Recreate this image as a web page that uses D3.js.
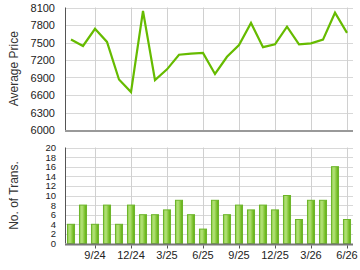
<!DOCTYPE html>
<html>
<head>
<meta charset="utf-8">
<script src="https://cdn.jsdelivr.net/npm/d3@7"></script>
<style>
  body { margin: 0; background: #fff; }
  svg { display: block; font-family: Arial, "Liberation Sans", sans-serif; }
</style>
</head>
<body>
<div id="chart"></div>
<script>
// Monthly data, 7/24 .. 6/26
const months = ["7/24","8/24","9/24","10/24","11/24","12/24","1/25","2/25","3/25","4/25","5/25","6/25",
                "7/25","8/25","9/25","10/25","11/25","12/25","1/26","2/26","3/26","4/26","5/26","6/26"];
const avgPrice = [7550, 7440, 7735, 7510, 6865, 6650, 8040, 6855, 7040, 7290, 7310, 7320,
                  6960, 7255, 7455, 7835, 7420, 7470, 7770, 7470, 7485, 7550, 8010, 7665];
const transCount = [4, 8, 4, 8, 4, 8, 6, 6, 7, 9, 6, 3, 9, 6, 8, 7, 8, 7, 10, 5, 9, 9, 16, 5];
const tickMonths = ["9/24","12/24","3/25","6/25","9/25","12/25","3/26","6/26"];
const priceTicks = [6000, 6300, 6600, 6900, 7200, 7500, 7800, 8100];
const transTicks = [0, 2, 4, 6, 8, 10, 12, 14, 16, 18, 20];

const width = 360, height = 270;
const left = 65, right = 353;

const svg = d3.select("#chart").append("svg")
    .attr("width", width)
    .attr("height", height);

// bar gradient
const defs = svg.append("defs");
const grad = defs.append("linearGradient").attr("id", "barGrad")
    .attr("x1", "0%").attr("x2", "100%").attr("y1", "0%").attr("y2", "0%");
grad.append("stop").attr("offset", "0%").attr("stop-color", "#8fcc4a");
grad.append("stop").attr("offset", "35%").attr("stop-color", "#b4e27a");
grad.append("stop").attr("offset", "75%").attr("stop-color", "#7cc22e");
grad.append("stop").attr("offset", "100%").attr("stop-color", "#5da814");

const x = d3.scaleBand()
    .domain(months)
    .range([left, right])
    .paddingInner(0.33)
    .paddingOuter(0.165);
const cx = m => x(m) + x.bandwidth() / 2;

// --- Top: average price ---
const top1 = 7.5, bot1 = 130;
const yPrice = d3.scaleLinear().domain([6000, 8100]).range([bot1, top1]);

const g1 = svg.append("g");
g1.selectAll("line.hgrid")
    .data(priceTicks.slice(1))
    .enter().append("line")
    .attr("x1", left).attr("x2", right)
    .attr("y1", d => Math.round(yPrice(d)) + 0.5)
    .attr("y2", d => Math.round(yPrice(d)) + 0.5)
    .attr("stroke", "#d8d8d8");
g1.selectAll("line.vgrid")
    .data(tickMonths)
    .enter().append("line")
    .attr("x1", d => Math.round(cx(d)) + 0.5).attr("x2", d => Math.round(cx(d)) + 0.5)
    .attr("y1", top1).attr("y2", bot1)
    .attr("stroke", "#d0d0d0");

g1.selectAll("text.ylab")
    .data(priceTicks)
    .enter().append("text")
    .attr("x", 55)
    .attr("y", d => yPrice(d) + 4)
    .attr("text-anchor", "end")
    .attr("font-size", 11)
    .attr("fill", "#222")
    .text(d => d);

g1.append("line")
    .attr("x1", left + 0.5).attr("x2", left + 0.5)
    .attr("y1", top1).attr("y2", bot1)
    .attr("stroke", "#555");
g1.append("line")
    .attr("x1", left).attr("x2", right)
    .attr("y1", bot1 + 1).attr("y2", bot1 + 1)
    .attr("stroke", "#999").attr("stroke-width", 2);

const line = d3.line()
    .x((d, i) => cx(months[i]))
    .y(d => yPrice(d));
g1.append("path")
    .datum(avgPrice)
    .attr("d", line)
    .attr("fill", "none")
    .attr("stroke", "#66bb00")
    .attr("stroke-width", 2.2)
    .attr("stroke-linejoin", "miter");

g1.append("text")
    .attr("transform", `translate(18,${(top1 + bot1) / 2}) rotate(-90)`)
    .attr("text-anchor", "middle")
    .attr("font-size", 12)
    .attr("fill", "#333")
    .text("Average Price");

// --- Bottom: transactions ---
const top2 = 147.5, bot2 = 243.5;
const yTrans = d3.scaleLinear().domain([0, 20]).range([bot2, top2]);

const g2 = svg.append("g");
g2.selectAll("line.hgrid")
    .data(transTicks.slice(1))
    .enter().append("line")
    .attr("x1", left).attr("x2", right)
    .attr("y1", d => Math.round(yTrans(d)) + 0.5)
    .attr("y2", d => Math.round(yTrans(d)) + 0.5)
    .attr("stroke", "#d8d8d8");
g2.selectAll("line.vgrid")
    .data(tickMonths)
    .enter().append("line")
    .attr("x1", d => Math.round(cx(d)) + 0.5).attr("x2", d => Math.round(cx(d)) + 0.5)
    .attr("y1", top2).attr("y2", bot2 + 4)
    .attr("stroke", "#d0d0d0");

g2.selectAll("rect.bar")
    .data(transCount)
    .enter().append("rect")
    .attr("x", (d, i) => x(months[i]) + 0.5)
    .attr("width", x.bandwidth() - 1)
    .attr("y", d => yTrans(d))
    .attr("height", d => yTrans(0) - yTrans(d))
    .attr("fill", "url(#barGrad)")
    .attr("stroke", "#6cb528")
    .attr("stroke-width", 1);

// labels packed tight like the original; small size keeps them apart
g2.selectAll("text.ylab")
    .data(transTicks)
    .enter().append("text")
    .attr("x", 56)
    .attr("y", d => yTrans(d) + 3.5)
    .attr("text-anchor", "end")
    .attr("font-size", 9.5)
    .attr("fill", "#222")
    .text(d => d);

g2.append("line")
    .attr("x1", left + 0.5).attr("x2", left + 0.5)
    .attr("y1", top2).attr("y2", bot2)
    .attr("stroke", "#555");
g2.append("line")
    .attr("x1", left).attr("x2", right)
    .attr("y1", bot2 + 1).attr("y2", bot2 + 1)
    .attr("stroke", "#777").attr("stroke-width", 2);
g2.selectAll("line.tick")
    .data(tickMonths)
    .enter().append("line")
    .attr("x1", d => Math.round(cx(d)) + 0.5).attr("x2", d => Math.round(cx(d)) + 0.5)
    .attr("y1", bot2 + 2).attr("y2", bot2 + 5)
    .attr("stroke", "#555");

g2.selectAll("text.xlab")
    .data(tickMonths)
    .enter().append("text")
    .attr("x", d => cx(d))
    .attr("y", 259)
    .attr("text-anchor", "middle")
    .attr("font-size", 11)
    .attr("fill", "#222")
    .text(d => d);

g2.append("text")
    .attr("transform", `translate(18,${(top2 + bot2) / 2}) rotate(-90)`)
    .attr("text-anchor", "middle")
    .attr("font-size", 12)
    .attr("fill", "#333")
    .text("No. of Trans.");
</script>
</body>
</html>
